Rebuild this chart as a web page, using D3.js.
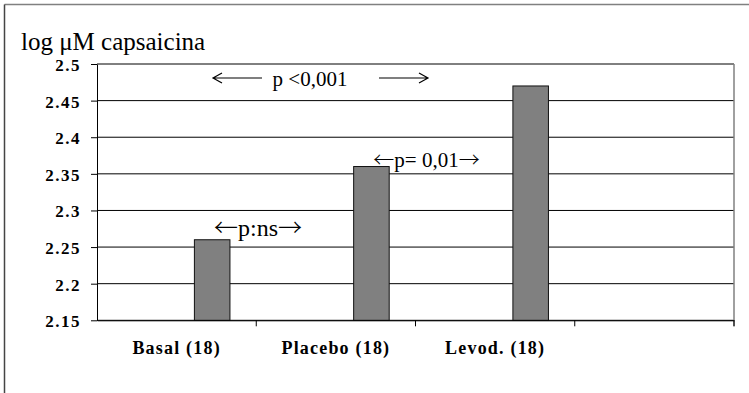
<!DOCTYPE html>
<html>
<head>
<meta charset="utf-8">
<script src="https://cdn.jsdelivr.net/npm/d3@7"></script>
<style>
  body { margin: 0; background: #fff; }
</style>
</head>
<body>
<div id="chart"></div>
<script>
const categories = ['Basal (18)', 'Placebo (18)', 'Levod. (18)', ''];
const values = [2.26, 2.36, 2.47];
const yTicks = [2.15, 2.2, 2.25, 2.3, 2.35, 2.4, 2.45, 2.5];
const yTickLabels = ['2.15', '2.2', '2.25', '2.3', '2.35', '2.4', '2.45', '2.5'];

const width = 749;
const height = 393;
const margin = { top: 64, right: 15, bottom: 72.7, left: 97 };
const serif = 'Liberation Serif';
const arrowFont = 'Noto Sans CJK JP';

const svg = d3.select('#chart')
  .append('svg')
  .attr('width', width)
  .attr('height', height)
  .attr('viewBox', [0, 0, width, height]);

// outer frame (only top and left are visible in the picture)
svg.append('path')
  .attr('d', `M4.5,4.5 H${width}`)
  .attr('fill', 'none')
  .attr('stroke', '#808080')
  .attr('stroke-width', 1.5);
svg.append('path')
  .attr('d', `M4.5,${height} V4.5`)
  .attr('fill', 'none')
  .attr('stroke', '#444')
  .attr('stroke-width', 1.5);

const x = d3.scaleBand()
  .domain(categories)
  .range([margin.left, width - margin.right])
  .padding(0);

// three slots per category, the bar sits in the last one
const x1 = d3.scaleBand()
  .domain([0, 1, 2])
  .range([0, x.bandwidth()])
  .paddingInner(0)
  .paddingOuter(0.74);

const y = d3.scaleLinear()
  .domain([2.15, 2.5])
  .range([height - margin.bottom, margin.top]);

// gridlines
svg.append('g')
  .selectAll('line')
  .data(yTicks)
  .join('line')
    .attr('x1', margin.left)
    .attr('x2', width - margin.right)
    .attr('y1', d => y(d))
    .attr('y2', d => y(d))
    .attr('stroke', '#000')
    .attr('stroke-width', 1);

// right edge of plot area
svg.append('line')
  .attr('x1', width - margin.right)
  .attr('x2', width - margin.right)
  .attr('y1', margin.top)
  .attr('y2', height - margin.bottom + 6)
  .attr('stroke', '#808080')
  .attr('stroke-width', 1.5);

// bars
svg.append('g')
  .selectAll('rect')
  .data(values)
  .join('rect')
    .attr('x', (d, i) => x(categories[i]) + x1(2))
    .attr('y', d => y(d))
    .attr('width', x1.bandwidth())
    .attr('height', d => y(2.15) - y(d))
    .attr('fill', '#808080')
    .attr('stroke', '#111')
    .attr('stroke-width', 1);

// y axis
svg.append('g')
  .attr('transform', `translate(${margin.left},0)`)
  .call(d3.axisLeft(y)
    .tickValues(yTicks)
    .tickFormat((d, i) => yTickLabels[i])
    .tickSize(6)
    .tickPadding(10)
    .tickSizeOuter(0))
  .attr('font-family', serif)
  .call(g => g.select('.domain').attr('stroke', '#000'))
  .call(g => g.selectAll('text')
    .attr('font-family', serif)
    .attr('font-weight', 'bold')
    .attr('font-size', '17px')
    .attr('letter-spacing', '1.5px')
    .attr('dy', '0.38em'));

// x axis
svg.append('g')
  .attr('transform', `translate(0,${height - margin.bottom})`)
  .call(d3.axisBottom(x).tickSize(0).tickPadding(21).tickSizeOuter(0))
  .attr('font-family', serif)
  .call(g => g.select('.domain').attr('stroke', '#000'))
  .call(g => g.selectAll('text')
    .attr('font-family', serif)
    .attr('font-weight', 'bold')
    .attr('font-size', '18px')
    .attr('letter-spacing', '1.2px'));

// category boundary ticks
svg.append('g')
  .selectAll('line')
  .data(categories)
  .join('line')
    .attr('x1', d => x(d) + x.bandwidth())
    .attr('x2', d => x(d) + x.bandwidth())
    .attr('y1', height - margin.bottom)
    .attr('y2', height - margin.bottom + 6)
    .attr('stroke', '#000');

// axis title
svg.append('text')
  .attr('x', 21)
  .attr('y', 50)
  .attr('font-family', serif)
  .attr('font-size', '25px')
  .text('log μM capsaicina');

// long arrows around p <0,001
function arrow(x0, x2, yy, dir) {
  const tip = dir > 0 ? x2 : x0;
  svg.append('path')
    .attr('d', `M${x0},${yy}H${x2} M${tip - dir * 9},${yy - 5} L${tip},${yy} L${tip - dir * 9},${yy + 5}`)
    .attr('fill', 'none')
    .attr('stroke', '#000')
    .attr('stroke-width', 1.2);
}
arrow(213, 262, 78, -1);
arrow(379, 428, 78, 1);

svg.append('text')
  .attr('x', 310)
  .attr('y', 86)
  .attr('text-anchor', 'middle')
  .attr('font-family', serif)
  .attr('font-size', '21px')
  .text('p <0,001');

function arrowLabel(cx, cy, size, inner) {
  const t = svg.append('text')
    .attr('x', cx)
    .attr('y', cy)
    .attr('text-anchor', 'middle')
    .attr('font-family', serif)
    .attr('font-size', size + 'px');
  t.append('tspan').attr('font-family', arrowFont).attr('font-weight', 300).text('←');
  t.append('tspan').text(inner);
  t.append('tspan').attr('font-family', arrowFont).attr('font-weight', 300).text('→');
}
arrowLabel(426.5, 167, 21, 'p= 0,01');
arrowLabel(258, 236, 24, 'p:ns');
</script>
</body>
</html>
